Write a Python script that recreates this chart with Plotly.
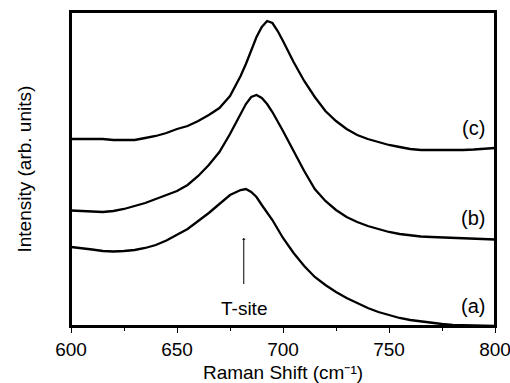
import plotly.graph_objects as go

# Raman shift (cm^-1)
shift = [600, 605, 610, 615, 620, 625, 630, 635, 640, 645, 650, 655, 660, 665, 670,
         675, 680, 682.5, 685, 687.5, 690, 692.5, 695, 697.5, 700, 705, 710, 715, 720, 725,
         730, 735, 740, 745, 750, 755, 760, 765, 770, 775, 780, 785, 790, 795, 800]

# Intensities (arb. units, offset stacked)
spec_a = [79, 78, 76.5, 75, 74.5, 75, 76, 78, 81, 85.5, 91, 97, 105, 113, 122,
          131, 136, 137, 134, 129, 121, 114, 106, 97, 88, 73, 60, 49, 41, 34,
          28, 23, 18, 14, 11, 8, 6, 4.5, 3, 2, 1.2, 1, 0.6, 0.5, 0.2]
spec_b = [115.5, 115, 114.5, 114, 115, 117, 120, 123, 127, 131, 135, 141, 150, 161, 174,
          192, 213, 222, 229, 231, 228, 222, 214, 205, 195, 175, 155, 137, 125, 116,
          109, 104, 100, 97, 94, 92, 90.5, 89.5, 89, 88.5, 88, 87.5, 87, 87, 86.5]
spec_c = [187, 187, 187.5, 187, 186, 186, 186, 188, 190, 193, 197, 200, 205, 211, 218,
          230, 250, 262, 276, 289, 299, 305, 303, 295, 285, 264, 245, 229, 215, 205,
          197, 191, 187, 184, 181, 179, 177, 176, 176, 175.5, 176, 176, 176.5, 177, 178]

major_ticks = [600, 650, 700, 750, 800]

labels = ["(a)", "(b)", "(c)"]
label_y = [20, 108, 198]
tsite_x = 681.5
tsite_y = 88

FONT = "Liberation Sans"

fig = go.Figure()
for ys in (spec_a, spec_b, spec_c):
    fig.add_trace(go.Scatter(x=shift, y=ys, mode="lines",
                             line=dict(color="black", width=2.3),
                             showlegend=False))

for lab, ly in zip(labels, label_y):
    fig.add_annotation(x=796, y=ly, xref="x", yref="y", text=lab, showarrow=False,
                       xanchor="right", yanchor="middle",
                       font=dict(family=FONT, size=20, color="black"))

fig.add_annotation(x=tsite_x, y=tsite_y, xref="x", yref="y", ax=0, ay=70,
                   text="T-site", showarrow=True, startstandoff=12,
                   arrowhead=1, arrowsize=0.6, arrowwidth=1, arrowcolor="black",
                   font=dict(family=FONT, size=19, color="black"))

fig.add_annotation(x=-0.112, y=0.5, xref="paper", yref="paper", text="Intensity (arb. units)",
                   textangle=-90, showarrow=False, xanchor="center", yanchor="middle",
                   font=dict(family=FONT, size=19, color="black"))

# plot frame
fig.add_shape(type="rect", xref="paper", yref="paper", x0=0, x1=1, y0=0, y1=1,
              line=dict(color="black", width=2))

fig.update_layout(
    width=510, height=383,
    margin=dict(l=71, r=15, t=12, b=57),
    paper_bgcolor="white", plot_bgcolor="white",
    xaxis=dict(range=[600, 800], tickvals=major_ticks,
               ticks="outside", ticklen=5, tickwidth=1, tickcolor="black",
               minor=dict(dtick=25, tick0=600, ticks="outside", ticklen=3, tickwidth=1, tickcolor="black"),
               showline=True, linewidth=2, linecolor="black", mirror=True,
               ticklabeloverflow="allow", showgrid=False, zeroline=False, automargin=False,
               tickfont=dict(size=19, family=FONT, color="black"),
               title=dict(text="Raman Shift (cm⁻¹)",
                          font=dict(size=19, family=FONT, color="black"))),
    yaxis=dict(range=[0, 314], tickvals=[0], ticktext=[" "], ticks="",
               showline=True, linewidth=2, linecolor="black", mirror=True,
               showgrid=False, zeroline=False, automargin=False),
)

fig.write_html("out.html")
